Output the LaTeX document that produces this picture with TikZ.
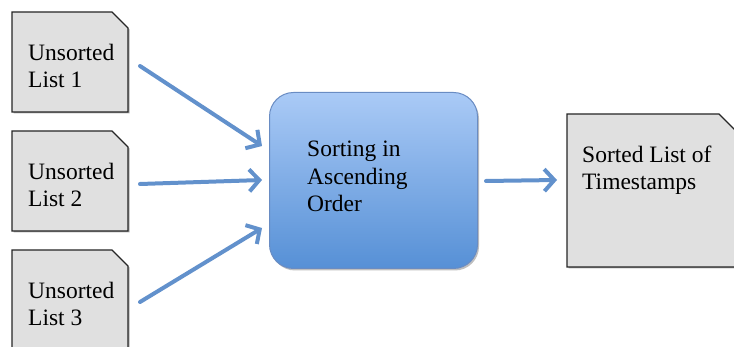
\documentclass[tikz,border=0pt]{standalone}
\usepackage{fontspec}
\setmainfont{Liberation Serif}
\usetikzlibrary{arrows.meta,shadows,calc}
\definecolor{arrowblue}{RGB}{98,145,204}
\definecolor{boxtop}{RGB}{170,202,246}
\definecolor{boxbot}{RGB}{86,144,214}
\definecolor{boxline}{RGB}{105,140,195}
\definecolor{docfill}{RGB}{224,224,224}
\tikzset{
  x=1pt, y=-1pt,
  docframe/.style={fill=docfill, draw=black!85, line width=1.4pt, line join=miter,
    drop shadow={shadow xshift=1.5pt, shadow yshift=-1.5pt, opacity=0.3, fill=black}},
  doctext/.style={anchor=base west, align=left, inner sep=0pt,
    font=\fontsize{23.5}{27}\selectfont},
  flow/.style={draw=arrowblue, line width=4pt, line cap=round,
    -{Straight Barb[length=10pt, width=22pt, line width=4pt]}},
  procbox/.style={rounded corners=24pt, draw=boxline, line width=1pt,
    top color=boxtop, bottom color=boxbot,
    drop shadow={shadow xshift=1.5pt, shadow yshift=-2pt, opacity=0.25, fill=black}},
}
\begin{document}
\begin{tikzpicture}
\useasboundingbox (0,0) rectangle (734,347);
\begin{scope}
\clip (0,0) rectangle (734,347);
% document boxes (left)
\foreach \i/\yy in {1/12, 2/131, 3/250} {
  \draw[docframe] (12,\yy) -- (112,\yy) -- (128,\yy+16) -- (128,\yy+100) -- (12,\yy+100) -- cycle;
}
% output document
\draw[docframe] (567,114) -- (719,114) -- (737,132) -- (737,267) -- (567,267) -- cycle;
\end{scope}
% process box
\node[procbox, minimum width=208pt, minimum height=176pt, anchor=north west] (sort) at (269,92) {};
% texts (anchor = baseline of last line)
\node[doctext] (u1) at (28,88) {Unsorted\\List 1};
\node[doctext] (u2) at (28,207) {Unsorted\\List 2};
\node[doctext] (u3) at (28,326) {Unsorted\\List 3};
\node[doctext, font=\fontsize{23.5}{27.5}\selectfont] (st) at (307,212) {Sorting in\\Ascending\\Order};
\node[doctext] (out) at (582,190) {Sorted List of\\Timestamps};
% connector end points
\coordinate (s1) at (140,66);
\coordinate (s2) at (140,184);
\coordinate (s3) at (140,302);
\coordinate (t1) at (262,146);
\coordinate (t2) at (262,180);
\coordinate (t3) at (262,228);
\coordinate (so) at (486,181);
\coordinate (to) at (557,180);
\draw[flow] (s1) -- (t1);
\draw[flow] (s2) -- (t2);
\draw[flow] (s3) -- (t3);
\draw[flow] (so) -- (to);
\end{tikzpicture}
\end{document}
